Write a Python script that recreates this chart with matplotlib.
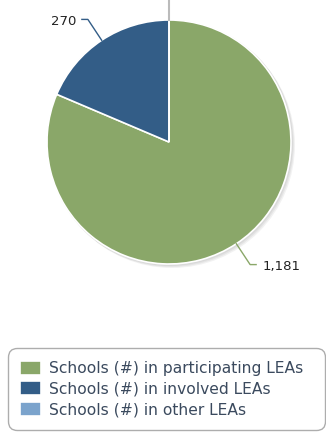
import numpy as np
import matplotlib as mpl
mpl.use('Agg')
import matplotlib.pyplot as plt
from matplotlib.patches import Circle

labels = ['Schools (#) in participating LEAs', 'Schools (#) in involved LEAs', 'Schools (#) in other LEAs']
values = [1181, 270, 0]
colors = ['#8aa769', '#335d87', '#7ba3cc']
line_colors = ['#8aa769', '#335d87', '#bbbbbb']

W, H = 326, 432
fig = plt.figure(figsize=(W / 100, H / 100), dpi=100)
ax = fig.add_axes([0, 0, 1, 1])

cx, cy, r = 169, H - 142, 122

# soft drop shadow under the pie
for i in range(3):
    ax.add_patch(Circle((cx + 1 + i, cy - 1 - i), r + 1, color='black', alpha=0.05, lw=0, zorder=1))

wedges, _ = ax.pie(values, colors=colors, startangle=90, counterclock=False,
                   center=(cx, cy), radius=r, frame=True,
                   wedgeprops=dict(edgecolor='white', linewidth=1.2, zorder=2))
ax.set_xlim(0, W); ax.set_ylim(0, H)
ax.axis('off')

# leader lines + value labels
total = sum(values)
start = 90.0
for v, lc in zip(values, line_colors):
    span = 360.0 * v / total
    mid = np.radians(start - span / 2)
    start -= span
    x0, y0 = cx + r * np.cos(mid), cy + r * np.sin(mid)
    if v == 0:
        ax.plot([x0, x0], [y0, H + 5], color=lc, lw=1.5, zorder=3)
        continue
    x1 = cx + (r + 25) * np.cos(mid)
    y1 = cy + (r + 25) * np.sin(mid)
    side = 1 if np.cos(mid) > 0 else -1
    x2 = x1 + side * 6
    ax.plot([x0, x1, x2], [y0, y1, y1], color=lc, lw=1, zorder=3)
    ax.text(x2 + side * 6, y1 - 2, f'{v:,}', ha='left' if side > 0 else 'right',
            va='center', fontsize=9.5, color='#222222')

leg = ax.legend(wedges, labels, loc='lower left', mode='expand',
                bbox_to_anchor=(11 / W, 5 / H, 311 / W, 0.1),
                fontsize=11.2, frameon=True, handlelength=1.3, handleheight=1.0,
                handletextpad=0.55, labelspacing=0.36, borderpad=0.6, borderaxespad=0)
leg.get_frame().set_edgecolor('#999999')
leg.get_frame().set_boxstyle('round,pad=0.2,rounding_size=0.6')
for t in leg.get_texts():
    t.set_color('#3b4a5e')

fig.savefig('out.png', dpi=100)
